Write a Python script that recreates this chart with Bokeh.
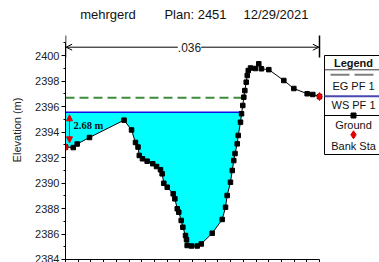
import numpy as np
from bokeh.plotting import figure
from bokeh.models import Range1d, FixedTicker, Label, Arrow, NormalHead, OpenHead
from bokeh.embed import file_html
from bokeh.resources import INLINE

# ---------------- data ----------------
station = [0.0, 6.1, 9.2, 18.9, 46.1, 52.0, 55.1, 57.1, 58.1, 60.6, 64.3, 68.7, 71.7, 74.8,
           76.1, 77.4, 80.1, 84.8, 86.1, 88.0, 89.2, 91.1, 92.4, 94.5, 95.3, 95.8, 99.2,
           103.7, 106.9, 115.5, 123.4, 126.0, 127.3, 129.9, 131.3, 132.5, 133.5, 135.2,
           136.0, 137.8, 138.6, 139.6, 140.4, 141.2, 142.3, 143.1, 143.9, 145.7, 149.6,
           152.2, 154.3, 160.1, 171.9, 179.8, 190.3, 194.7, 200.0]
elevation = [2392.82, 2392.78, 2393.06, 2393.57, 2394.93, 2394.16, 2393.18, 2392.82,
             2392.16, 2391.90, 2391.71, 2391.51, 2391.29, 2391.04, 2390.72, 2389.98,
             2389.67, 2389.15, 2388.76, 2387.98, 2387.71, 2387.06, 2386.53, 2385.88,
             2385.55, 2385.10, 2385.06, 2385.06, 2385.22, 2386.06, 2387.14, 2388.10,
             2389.02, 2390.06, 2390.98, 2391.76, 2392.31, 2393.07, 2393.73, 2394.77,
             2395.43, 2396.08, 2396.73, 2397.25, 2397.91, 2398.43, 2398.82, 2399.02,
             2398.98, 2399.35, 2398.96, 2398.89, 2398.04, 2397.41, 2397.00, 2396.94,
             2396.78]
bank_station = [0.0, 200.0]
bank_elevation = [2392.82, 2396.78]
ws_elev = 2395.55
eg_elev = 2396.68
depth_text = "2.68 m"
manning_text = ".036"
title_parts = ["mehrgerd", "Plan: 2451", "12/29/2021"]
legend_labels = ["EG PF 1", "WS PF 1", "Ground", "Bank Sta"]
y_ticks = list(range(2384, 2401, 2))
y_minor = list(range(2384, 2402))
x_ticks = list(range(0, 201, 10))

# ---------------- layout ----------------
W, H = 379, 262
BL, BB = 65, 3
PX_PER_X = 1.27
PX_PER_Y = 12.75
FRAME_L = BL
FRAME_R = W
FRAME_T = 0
FRAME_B = H - BB
Y_REF_PX = 55.0  # page y of 2400


def sx(px):
    return (px - FRAME_L) / PX_PER_X


def ey(py):
    return 2400 - (py - Y_REF_PX) / PX_PER_Y


p = figure(width=W, height=H, output_backend="svg", toolbar_location=None,
           x_range=Range1d(sx(FRAME_L), sx(FRAME_R)),
           y_range=Range1d(ey(FRAME_B), ey(FRAME_T)),
           min_border_left=BL, min_border_right=0, min_border_top=0, min_border_bottom=BB)
p.outline_line_color = None
p.xgrid.visible = False
p.ygrid.visible = False
p.background_fill_color = "white"

st = np.array(station)
el = np.array(elevation)


def right_crossing(level):
    imin = int(np.argmin(el))
    i = imin + int(np.argmax(el[imin:] >= level))
    x0, x1, y0, y1 = st[i - 1], st[i], el[i - 1], el[i]
    return i, x0 + (level - y0) / (y1 - y0) * (x1 - x0)


iw, ws_x = right_crossing(ws_elev)
ie, eg_x = right_crossing(eg_elev)

fx = list(st[:iw]) + [ws_x]
fy = list(el[:iw]) + [ws_elev]
p.varea(x=fx, y1=fy, y2=[ws_elev] * len(fx), fill_color="#00ffff")

p.line([0, ws_x], [ws_elev, ws_elev], line_color="#1010e8", line_width=1.6)
p.line([0, eg_x], [eg_elev, eg_elev], line_color="#3d8b3d", line_width=2, line_dash="9 5")
p.line(station, elevation, line_color="black", line_width=1)
p.scatter(station, elevation, marker="square", size=4.5, fill_color="black", line_color="black")
p.scatter(bank_station, bank_elevation, marker="diamond", size=8, fill_color="#e00000", line_color="#e00000")

# axes
ya = p.yaxis[0]
ya.ticker = FixedTicker(ticks=y_ticks, minor_ticks=y_minor)
ya.bounds = (2384, 2401)
ya.major_tick_out = 4
ya.major_tick_in = 0
ya.minor_tick_out = 2
ya.minor_tick_in = 0
ya.major_label_standoff = 2
ya.major_label_text_font = "Liberation Sans"
ya.major_label_text_font_size = "11px"
ya.major_label_text_color = "#222222"
ya.axis_label = "Elevation (m)"
ya.axis_label_text_font = "Liberation Sans"
ya.axis_label_text_font_size = "11px"
ya.axis_label_text_font_style = "normal"
ya.axis_label_text_color = "#222222"
ya.axis_label_standoff = 9
ya.axis_line_color = "black"

xa = p.xaxis[0]
xa.ticker = FixedTicker(ticks=[], minor_ticks=x_ticks)
xa.bounds = (0, 200)
xa.minor_tick_out = 3
xa.minor_tick_in = 0
xa.major_tick_out = 0
xa.major_label_standoff = 0
xa.axis_line_color = "black"

# title
for txt, cx in zip(title_parts, [107.5, 195, 275.5]):
    p.add_layout(Label(x=sx(cx), y=ey(14), text=txt, text_align="center", text_baseline="middle",
                       text_font="Liberation Sans", text_font_size="13px", text_color="#111111"))

# dimension line with manning's n
dim_y = ey(46.7)
p.segment(x0=[0, 200], y0=[ey(57), ey(57)], x1=[0, 200], y1=[ey(35), ey(35)],
          line_color="black", line_width=1.5)
p.add_layout(Arrow(start=OpenHead(size=6, line_color="black", line_width=1),
                   end=OpenHead(size=6, line_color="black", line_width=1),
                   x_start=0.5, y_start=dim_y, x_end=199.5, y_end=dim_y,
                   line_color="black", line_width=1))
p.add_layout(Label(x=sx(189), y=dim_y, text=manning_text, text_align="center", text_baseline="middle",
                   text_font="Liberation Sans", text_font_size="12px", text_color="#222222",
                   background_fill_color="white"))

# depth annotation
ax = sx(69)
ground_at = float(np.interp(ax, st, el))
p.add_layout(Arrow(start=NormalHead(size=6, fill_color="#e00000", line_color="#e00000"),
                   end=NormalHead(size=6, fill_color="#e00000", line_color="#e00000"),
                   x_start=ax, y_start=ground_at + 0.35, x_end=ax, y_end=ws_elev - 0.2,
                   line_color="#e00000", line_width=1))
p.add_layout(Label(x=sx(73), y=ey(125), text=depth_text, text_baseline="middle",
                   text_font="Liberation Serif", text_font_size="10.5px", text_font_style="bold",
                   text_color="#111111"))

# legend (drawn as glyphs, box first so that the samples sit on top)
LX = 324
CX = 353
p.quad(left=[sx(LX)], right=[sx(400)], top=[ey(55)], bottom=[ey(154)],
       fill_color="white", line_color="black", line_width=1)
p.segment(x0=[sx(LX)], y0=[ey(69.3)], x1=[sx(400)], y1=[ey(69.3)], line_color="#333333", line_width=1)
p.segment(x0=[sx(330), sx(354)], y0=[ey(74.3)] * 2, x1=[sx(349), sx(373)], y1=[ey(74.3)] * 2,
          line_color="#808080", line_width=2)
p.segment(x0=[sx(LX)], y0=[ey(95.7)], x1=[sx(400)], y1=[ey(95.7)], line_color="#4848b0", line_width=2)
p.segment(x0=[sx(LX)], y0=[ey(115)], x1=[sx(400)], y1=[ey(115)], line_color="black", line_width=1)
p.scatter([sx(CX)], [ey(115)], marker="square", size=5, fill_color="black", line_color="black")
p.scatter([sx(CX)], [ey(134.3)], marker="diamond", size=8, fill_color="#e00000", line_color="#e00000")
p.add_layout(Label(x=sx(CX), y=ey(62), text="Legend", text_align="center", text_baseline="middle",
                   text_font="Liberation Sans", text_font_size="11px", text_font_style="bold",
                   text_color="#111111"))
for txt, ty in zip(legend_labels, [85, 104.3, 124, 145.3]):
    p.add_layout(Label(x=sx(CX), y=ey(ty), text=txt, text_align="center", text_baseline="middle",
                       text_font="Liberation Sans", text_font_size="11px", text_color="#111111"))

open("out.html", "w").write(file_html(p, INLINE))
